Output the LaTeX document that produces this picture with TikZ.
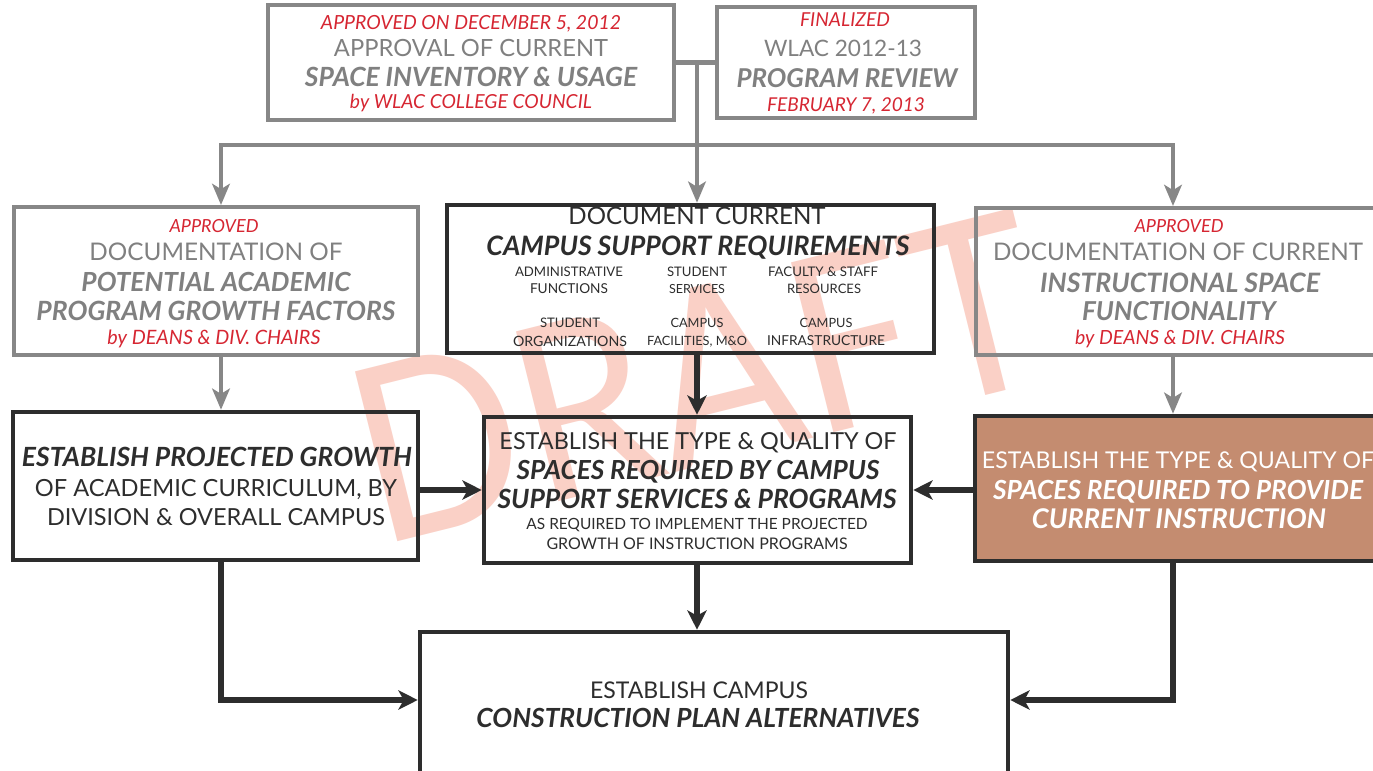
\documentclass[tikz,border=0pt]{standalone}
\usepackage{fontspec}
\setmainfont{Lato}
\usepackage{graphicx}
\usetikzlibrary{arrows.meta,fit,calc}
\newlength{\pxu}\setlength{\pxu}{0.02cm}
\newcommand{\fitw}[2]{\resizebox{#1\pxu}{!}{#2}}
\definecolor{gtx}{RGB}{128,128,128}
\definecolor{gln}{RGB}{135,135,135}
\definecolor{dk}{RGB}{45,45,45}
\definecolor{rd}{RGB}{214,38,50}
\definecolor{brn}{RGB}{196,140,112}
\definecolor{wm}{RGB}{250,208,198}
\begin{document}
\begin{tikzpicture}[x=0.02cm,y=-0.02cm,
  gbox/.style={draw=gln, line width=2.3pt, inner sep=0pt},
  dbox/.style={draw=dk, line width=2.6pt, inner sep=0pt},
  lbl/.style={inner sep=0pt, text depth=0pt},
  gline/.style={draw=gln, line width=2.8pt},
  garrow/.style={draw=gln, line width=2.8pt, -{Stealth[length=12pt,width=10pt,inset=3pt]}},
  darrow/.style={draw=dk, line width=3pt, -{Stealth[length=11pt,width=11pt,inset=3pt]}},
  ]
\clip (0,0) rectangle (1373,771);
\fill[white] (0,0) rectangle (1373,771);
% watermark
\node[rotate=14, text=wm, inner sep=0pt] (wmk) at (697,377) {\resizebox{700\pxu}{175\pxu}{DRAFT}};
% boxes
\node[gbox, fit={(268,5) (674,120)}] (A) {};
\node[gbox, fit={(717,7) (975,118)}] (B) {};
\node[gbox, fit={(14,207) (418,355)}] (C) {};
\node[dbox, fit={(447,205) (934,353)}] (D) {};
\node[gbox, fit={(976,208) (1385,355)}] (E) {};
\node[dbox, fit={(13,412) (418,560)}] (F) {};
\node[dbox, fit={(484,417) (911,563)}] (G) {};
\node[dbox, fill=brn, fit={(975,416) (1385,561)}] (H) {};
\node[dbox, fit={(420,632) (1008,790)}] (I) {};
% helper coordinates
\coordinate (jt) at (697,62.5);
\coordinate (jb) at (697,145);
\coordinate (colL) at (221,0);
\coordinate (colM) at (697,0);
\coordinate (colR) at (1173,0);
\coordinate (rowm) at (0,490);
\coordinate (rowb) at (0,700);
% connectors
\draw[gline] (A.east) -- (B.west);
\draw[garrow] (jt) -- (jt |- D.north);
\draw[garrow] (jb) -| (C.north -| colL);
\draw[garrow] (jb) -| (E.north -| colR);
\draw[garrow] (C.south -| colL) -- (F.north -| colL);
\draw[garrow] (E.south -| colR) -- (H.north -| colR);
\draw[darrow] (D.south -| colM) -- (G.north -| colM);
\draw[darrow] (F.east |- rowm) -- (G.west |- rowm);
\draw[darrow] (H.west |- rowm) -- (G.east |- rowm);
\draw[darrow] (G.south -| colM) -- (I.north -| colM);
\draw[darrow] (F.south -| colL) |- (I.west |- rowb);
\draw[darrow] (H.south -| colR) |- (I.east |- rowb);
% texts A
\node[lbl, text=rd] (a1) at (471,22) {\fitw{300}{\itshape APPROVED ON DECEMBER 5, 2012}};
\node[lbl, text=gtx] (a2) at (471,48) {\fitw{274}{APPROVAL OF CURRENT}};
\node[lbl, text=gtx] (a3) at (471,77) {\fitw{332}{\bfseries\itshape SPACE INVENTORY \& USAGE}};
\node[lbl, text=rd] (a4) at (471,101) {\fitw{242}{\itshape by WLAC COLLEGE COUNCIL}};
% texts B
\node[lbl, text=rd] (b1) at (845,20) {\fitw{90}{\itshape FINALIZED}};
\node[lbl, text=gtx] (b2) at (843,48) {\fitw{158}{WLAC 2012-13}};
\node[lbl, text=gtx] (b3) at (847,78) {\fitw{221}{\bfseries\itshape PROGRAM REVIEW}};
\node[lbl, text=rd] (b4) at (846,105) {\fitw{158}{\itshape FEBRUARY 7, 2013}};
% texts C
\node[lbl, text=rd] (c1) at (214,226) {\fitw{89}{\itshape APPROVED}};
\node[lbl, text=gtx] (c2) at (216,252) {\fitw{253}{DOCUMENTATION OF}};
\node[lbl, text=gtx] (c3) at (216,282) {\fitw{269}{\bfseries\itshape POTENTIAL ACADEMIC}};
\node[lbl, text=gtx] (c4) at (216,311) {\fitw{359}{\bfseries\itshape PROGRAM GROWTH FACTORS}};
\node[lbl, text=rd] (c5) at (214,337) {\fitw{213}{\itshape by DEANS \& DIV. CHAIRS}};
% texts D
\node[lbl, text=dk] (d1) at (697,216) {\fitw{257}{DOCUMENT CURRENT}};
\node[lbl, text=dk] (d2) at (698,246) {\fitw{423}{\bfseries\itshape CAMPUS SUPPORT REQUIREMENTS}};
\node[lbl, text=dk] (d3) at (569,272) {\fitw{108}{ADMINISTRATIVE}};
\node[lbl, text=dk] (d4) at (569,289) {\fitw{78}{FUNCTIONS}};
\node[lbl, text=dk] (d5) at (697,272) {\fitw{60}{STUDENT}};
\node[lbl, text=dk] (d6) at (697,289) {\fitw{56}{SERVICES}};
\node[lbl, text=dk] (d7) at (823,272) {\fitw{110}{FACULTY \& STAFF}};
\node[lbl, text=dk] (d8) at (824,289) {\fitw{74}{RESOURCES}};
\node[lbl, text=dk] (d9) at (570,323) {\fitw{60}{STUDENT}};
\node[lbl, text=dk] (d10) at (570,341) {\fitw{114}{ORGANIZATIONS}};
\node[lbl, text=dk] (d11) at (697,323) {\fitw{53}{CAMPUS}};
\node[lbl, text=dk] (d12) at (697,341) {\fitw{100}{FACILITIES, M\&O}};
\node[lbl, text=dk] (d13) at (826,323) {\fitw{53}{CAMPUS}};
\node[lbl, text=dk] (d14) at (826,341) {\fitw{118}{INFRASTRUCTURE}};
% texts E
\node[lbl, text=rd] (e1) at (1179,226) {\fitw{89}{\itshape APPROVED}};
\node[lbl, text=gtx] (e2) at (1178,252) {\fitw{370}{DOCUMENTATION OF CURRENT}};
\node[lbl, text=gtx] (e3) at (1180,283) {\fitw{280}{\bfseries\itshape INSTRUCTIONAL SPACE}};
\node[lbl, text=gtx] (e4) at (1179,311) {\fitw{194}{\bfseries\itshape FUNCTIONALITY}};
\node[lbl, text=rd] (e5) at (1180,337) {\fitw{210}{\itshape by DEANS \& DIV. CHAIRS}};
% texts F
\node[lbl, text=dk] (f1) at (217,457) {\fitw{390}{\bfseries\itshape ESTABLISH PROJECTED GROWTH}};
\node[lbl, text=dk] (f2) at (216,488) {\fitw{362}{OF ACADEMIC CURRICULUM, BY}};
\node[lbl, text=dk] (f3) at (216,517) {\fitw{338}{DIVISION \& OVERALL CAMPUS}};
% texts G
\node[lbl, text=dk] (g1) at (698,441) {\fitw{397}{ESTABLISH THE TYPE \& QUALITY OF}};
\node[lbl, text=dk] (g2) at (698,470) {\fitw{363}{\bfseries\itshape SPACES REQUIRED BY CAMPUS}};
\node[lbl, text=dk] (g3) at (697,499) {\fitw{399}{\bfseries\itshape SUPPORT SERVICES \& PROGRAMS}};
\node[lbl, text=dk] (g4) at (697,524) {\fitw{341}{AS REQUIRED TO IMPLEMENT THE PROJECTED}};
\node[lbl, text=dk] (g5) at (697,544) {\fitw{301}{GROWTH OF INSTRUCTION PROGRAMS}};
% texts H
\node[lbl, text=white] (h1) at (1178,460) {\fitw{392}{ESTABLISH THE TYPE \& QUALITY OF}};
\node[lbl, text=white] (h2) at (1178,490) {\fitw{370}{\bfseries\itshape SPACES REQUIRED TO PROVIDE}};
\node[lbl, text=white] (h3) at (1179,519) {\fitw{294}{\bfseries\itshape CURRENT INSTRUCTION}};
% texts I
\node[lbl, text=dk] (i1) at (699,690) {\fitw{218}{ESTABLISH CAMPUS}};
\node[lbl, text=dk] (i2) at (698,718) {\fitw{443}{\bfseries\itshape CONSTRUCTION PLAN ALTERNATIVES}};
\end{tikzpicture}
\end{document}
